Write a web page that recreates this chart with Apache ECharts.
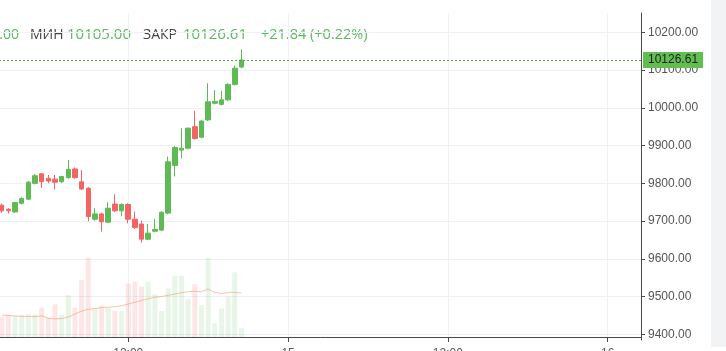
<!DOCTYPE html>
<html>
<head>
<meta charset="utf-8">
<title>BTC 30m</title>
<script src="https://cdn.jsdelivr.net/npm/echarts@6/dist/echarts.min.js"></script>
</head>
<body style="margin:0">
<div id="main" style="width:726px;height:351px;"></div>
<script type="text/javascript">
// 30-min candles
var opens  = [9742, 9731, 9724, 9747, 9758, 9800, 9825, 9813, 9811, 9804, 9815, 9838, 9804, 9787, 9705, 9719, 9697, 9745, 9727, 9744,
              9705, 9692, 9652, 9673, 9676, 9721, 9847, 9888, 9893, 9950, 9922, 9968, 10012, 10009, 10021, 10062, 10108];
var closes = [9727, 9727, 9749, 9760, 9803, 9820, 9804, 9806, 9803, 9818, 9837, 9815, 9785, 9712, 9719, 9698, 9734, 9727, 9744, 9705,
              9683, 9652, 9668, 9678, 9723, 9857, 9895, 9893, 9946, 9919, 9965, 10016, 10017, 10021, 10062, 10104.77, 10126.61];
var lows   = [9722, 9720, 9722, 9744, 9755, 9797, 9788, 9800, 9784, 9801, 9812, 9812, 9782, 9700, 9701, 9672, 9694, 9724, 9713, 9694,
              9679, 9643, 9649, 9670, 9673, 9718, 9818, 9866, 9890, 9916, 9919, 9965, 10009, 10006, 10018, 10059, 10105];
var highs  = [9746, 9734, 9751, 9763, 9806, 9825, 9827, 9822, 9822, 9820, 9862, 9842, 9835, 9790, 9734, 9722, 9750, 9771, 9747, 9747,
              9725, 9701, 9692, 9705, 9726, 9871, 9899, 9946, 9948, 9992, 9967, 10065, 10047, 10045, 10065, 10112, 10155];
var volumes = [203, 220, 210, 220, 227, 227, 293, 193, 327, 220, 420, 293, 570, 793, 287, 313, 287, 260, 260, 535,
               553, 503, 553, 427, 260, 487, 613, 613, 377, 527, 320, 793, 137, 287, 403, 647, 87];
var volMA = [220, 215, 210, 207, 205, 203, 212, 187, 180, 185, 200, 230, 260, 277, 285, 293, 297, 303, 313, 330,
             347, 365, 383, 397, 405, 417, 430, 443, 453, 458, 452, 480, 445, 435, 445, 447, 440];
var lastPrice = 10126.61;
var header = {high: '10155.00', low: '10105.00', close: '10126.61', change: '+21.84 (+0.22%)'};

var upColor = '#5fba55';
var downColor = '#f46464';

// time axis: one empty slot before the first candle, empty room on the right
var cats = [];
for (var k = 0; k < 98; k++) {
    var m = 14 * 1440 + 120 + k * 30;
    var day = Math.floor(m / 1440), hh = Math.floor((m % 1440) / 60), mm = m % 60;
    cats.push(day + ' ' + (hh < 10 ? '0' : '') + hh + ':' + (mm < 10 ? '0' : '') + mm);
}
function pad(arr) {
    var out = ['-'];
    for (var i = 0; i < arr.length; i++) out.push(arr[i]);
    while (out.length < cats.length) out.push('-');
    return out;
}
var candleData = [], volData = [];
for (var i = 0; i < opens.length; i++) {
    candleData.push([opens[i], closes[i], lows[i], highs[i]]);
    volData.push({
        value: volumes[i],
        itemStyle: {color: closes[i] >= opens[i] ? 'rgba(95,186,85,0.14)' : 'rgba(244,100,100,0.16)'}
    });
}
function every12h(idx) { return (idx - 20) % 24 === 0; }

var myChart = echarts.init(document.getElementById('main'));
var option = {
    animation: false,
    backgroundColor: '#fff',
    textStyle: {fontFamily: 'Liberation Sans, Arial, sans-serif'},
    grid: [
        {left: -4.96, right: 85, top: -5.45, bottom: -21.05, outerBoundsMode: 'none', containLabel: false},
        {left: -4.96, right: 85, top: 13, bottom: 11, outerBoundsMode: 'none', containLabel: false}
    ],
    xAxis: [
        {gridIndex: 0, type: 'category', data: cats, boundaryGap: false, show: false},
        {
            gridIndex: 1, type: 'category', data: cats, boundaryGap: false,
            axisLine: {lineStyle: {color: '#4a4a4a'}},
            axisTick: {interval: every12h, length: 5, lineStyle: {color: '#4a4a4a'}},
            axisLabel: {
                interval: every12h, color: '#555', fontSize: 12, margin: 8,
                formatter: function (v) {
                    var p = v.split(' ');
                    return p[1] === '00:00' ? p[0] : p[1];
                }
            },
            splitLine: {show: true, interval: every12h, lineStyle: {color: '#eef1f5'}}
        }
    ],
    yAxis: [
        {
            gridIndex: 0, type: 'value', position: 'right', min: 9300, max: 10300, interval: 100,
            axisLine: {show: false},
            axisTick: {show: true, length: 4, lineStyle: {color: '#4a4a4a'}},
            axisLabel: {margin: 7, color: '#555', fontSize: 12, formatter: function (v) { return v.toFixed(2); }},
            splitLine: {lineStyle: {color: '#eef1f5'}}
        },
        {
            gridIndex: 1, type: 'value', position: 'right', min: -30, max: 3240,
            axisLine: {show: true, lineStyle: {color: '#4a4a4a'}},
            axisTick: {show: false}, axisLabel: {show: false}, splitLine: {show: false}
        }
    ],
    series: [
        {
            name: 'Объём', type: 'bar', xAxisIndex: 1, yAxisIndex: 1,
            data: pad(volData), barWidth: 5
        },
        {
            name: 'MA', type: 'line', xAxisIndex: 1, yAxisIndex: 1,
            data: pad(volMA), symbol: 'none',
            lineStyle: {color: 'rgba(240,150,100,0.55)', width: 1}
        },
        {
            name: 'BTC', type: 'candlestick', xAxisIndex: 0, yAxisIndex: 0,
            data: pad(candleData), barWidth: 5, clip: false,
            itemStyle: {color: upColor, color0: downColor, borderColor: upColor, borderColor0: downColor},
            markLine: {
                silent: true, symbol: 'none',
                lineStyle: {color: '#4caf3c', type: [2, 2], width: 1},
                label: {
                    position: 'end', distance: 2, formatter: lastPrice.toFixed(2),
                    backgroundColor: '#62be50', color: '#1e1e1e', fontSize: 12, padding: [2, 5]
                },
                data: [{yAxis: lastPrice}]
            }
        }
    ],
    graphic: [
        {type: 'rect', left: 711, top: 0, shape: {width: 15, height: 347}, style: {fill: '#f2f3f5'}, silent: true},
        {type: 'text', x: 19, y: 35, style: {text: header.high, fill: '#5cb85c', font: '14px Open Sans', textAlign: 'right', textVerticalAlign: 'middle'}},
        {type: 'text', x: 30, y: 35, style: {text: 'МИН', fill: '#444', font: '14px Open Sans', textVerticalAlign: 'middle'}},
        {type: 'text', x: 67, y: 35, style: {text: header.low, fill: '#5cb85c', font: '15px Open Sans', textVerticalAlign: 'middle'}},
        {type: 'text', x: 143, y: 35, style: {text: 'ЗАКР', fill: '#444', font: '14px Open Sans', textVerticalAlign: 'middle'}},
        {type: 'text', x: 183, y: 35, style: {text: header.close, fill: '#5cb85c', font: '15px Open Sans', textVerticalAlign: 'middle'}},
        {type: 'text', x: 261, y: 35, style: {text: header.change, fill: '#5cb85c', font: '14.5px Open Sans', textVerticalAlign: 'middle'}}
    ]
};
myChart.setOption(option);
</script>
</body>
</html>
